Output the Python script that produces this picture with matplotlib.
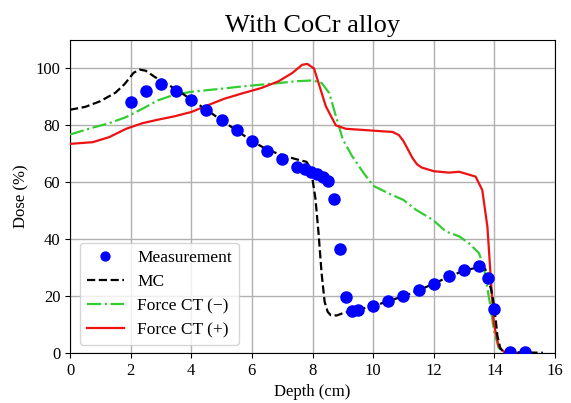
import matplotlib
matplotlib.use('Agg')
import matplotlib.pyplot as plt

plt.rcParams['font.family'] = ['Liberation Serif', 'DejaVu Serif']

# measurement points
meas_x = [2.0, 2.5, 3.0, 3.5, 4.0, 4.5, 5.0, 5.5, 6.0, 6.5, 7.0, 7.5, 7.75, 7.95, 8.15,
          8.35, 8.5, 8.7, 8.9, 9.1, 9.3, 9.5, 10.0, 10.5, 11.0, 11.5, 12.0, 12.5, 13.0,
          13.5, 13.8, 14.0, 14.5, 15.0]
meas_y = [88.2, 92, 94.7, 92, 88.8, 85.5, 82, 78.3, 74.6, 71, 68.2, 65.3, 64.5, 63.6, 62.8,
          62, 60.5, 54.3, 36.6, 19.6, 14.9, 15.1, 16.5, 18.2, 20, 22.2, 24.4, 27, 29.3,
          30.5, 26.4, 15.3, 0.2, 0.3]

# MC
mc_x = [0, 0.5, 1.0, 1.5, 1.8, 2.1, 2.3, 2.5, 2.8, 3.2, 3.6, 4.0, 4.5, 5.0, 5.5, 6.0,
        6.5, 7.0, 7.5, 7.8, 7.9, 8.0, 8.1, 8.2, 8.3, 8.4, 8.5, 8.6, 8.8, 9.0, 9.5, 10.0,
        10.5, 11.0, 11.5, 12.0, 12.5, 13.0, 13.5, 13.7, 13.9, 14.0, 14.1, 14.2, 14.3,
        14.6, 15.0, 15.6]
mc_y = [85.5, 86.5, 88.5, 91.5, 94.5, 98.5, 99.6, 99.2, 97, 94.5, 92, 89, 85.5, 81.8,
        78.2, 74.5, 71.5, 69.5, 68, 67.2, 65.5, 61, 54, 42, 28, 18, 14.5, 13.3, 13.2, 14,
        15.3, 16.5, 18.2, 20, 22, 24.4, 26.8, 29, 30.2, 29.5, 22, 16, 6, 1.5, 0.5, 0.3,
        0.2, 0.1]

# Force CT (-)
fm_x = [0, 0.75, 1.3, 1.85, 2.4, 2.9, 3.45, 4.0, 4.55, 5.1, 5.6, 6.3, 7.0, 7.45, 8.0,
        8.3, 8.55, 8.77, 9.0, 9.3, 9.67, 10.0, 10.55, 11.0, 11.42, 11.97, 12.4, 12.84,
        13.16, 13.49, 13.65, 13.76, 13.87, 13.98, 14.14, 14.36, 15.0]
fm_y = [76.8, 79.2, 80.8, 82.9, 85.9, 88.8, 90.8, 91.8, 92.4, 93.0, 93.6, 94.3, 95.0,
        95.5, 95.8, 94.9, 91.4, 83.3, 75.1, 69.3, 63.5, 58.8, 55.9, 53.8, 50.3, 46.8,
        42.7, 41, 38.6, 35.1, 30.4, 23.4, 16.4, 8.2, 1.8, 0, 0]

# Force CT (+)
fp_x = [0, 0.75, 1.3, 1.85, 2.4, 2.9, 3.45, 4.0, 4.55, 5.1, 5.7, 6.3, 6.88, 7.33, 7.66,
        7.83, 8.05, 8.22, 8.44, 8.77, 9.1, 9.67, 10.2, 10.64, 10.85, 11.0, 11.15, 11.3,
        11.45, 11.6, 12.0, 12.5, 12.84, 13.38, 13.6, 13.77, 13.87, 13.98, 14.14, 14.36, 15.0]
fp_y = [73.5, 74.1, 75.9, 78.8, 80.8, 82, 83.2, 84.7, 87.1, 89.4, 91.3, 93.1, 95.5, 98.4,
        101.3, 101.6, 100, 94.2, 86.7, 80, 78.8, 78.4, 78, 77.7, 76.6, 74.5, 71.5, 68.5,
        66.3, 65.2, 63.9, 63.4, 63.7, 62, 57.3, 44.4, 28.1, 10.5, 2.3, 0, 0]

fig = plt.figure(figsize=(5.71, 4.03), dpi=100)
ax = fig.add_axes([0.1226, 0.124, 0.8494, 0.7767])

ax.plot(meas_x, meas_y, 'o', color='blue', markersize=8, label='Measurement', zorder=5)
ax.plot(mc_x, mc_y, '--', color='black', lw=1.6, label='MC', zorder=4)
ax.plot(fm_x, fm_y, '-.', color='#33cc33', lw=1.6, label='Force CT (\u2212)', zorder=3)
ax.plot(fp_x, fp_y, '-', color='#ee1111', lw=1.6, label='Force CT (+)', zorder=3)

ax.set_xlim(0, 16)
ax.set_ylim(0, 110)
ax.set_xticks(range(0, 17, 2))
ax.set_yticks(range(0, 101, 20))
ax.grid(True, color='#b0b0b0', lw=1)
ax.set_axisbelow(True)
ax.tick_params(labelsize=12)
ax.set_xlabel('Depth (cm)', fontsize=12)
ax.set_ylabel('Dose (%)', fontsize=12)
ax.set_title('With CoCr alloy', fontsize=19)
ax.legend(loc='lower left', fontsize=12.5, handlelength=2.15, handletextpad=0.75,
          markerscale=0.8, borderaxespad=0, labelspacing=0.45,
          bbox_to_anchor=(0.02, 0.026))

fig.savefig('out.png', dpi=100)
